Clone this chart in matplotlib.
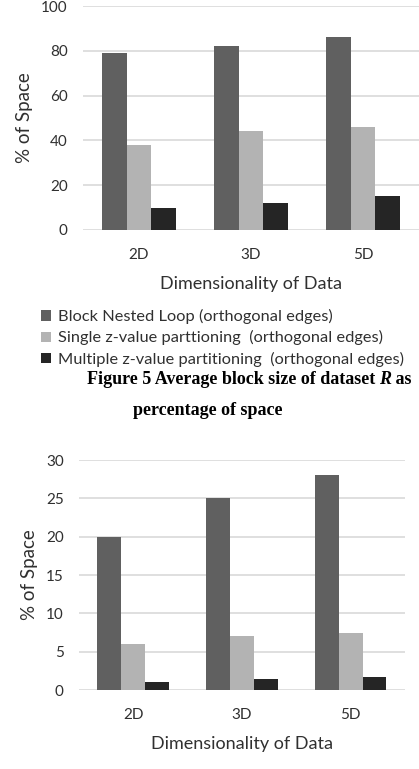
import matplotlib.pyplot as plt
import numpy as np

plt.rcParams['font.family'] = ['Lato', 'DejaVu Sans']

# datos
dims = ['2D', '3D', '5D']
series = ['Block Nested Loop (orthogonal edges)',
          'Single z-value parttioning  (orthogonal edges)',
          'Multiple z-value partitioning  (orthogonal edges)']
top_bnl = [79, 82, 86]
top_single = [38, 44, 46]
top_multi = [10, 12, 15]
bot_bnl = [20, 25, 28]
bot_single = [6, 7, 7.5]
bot_multi = [1, 1.5, 1.7]
top_ticks = [0, 20, 40, 60, 80, 100]
bot_ticks = [0, 5, 10, 15, 20, 25, 30]

colores = ['#606060', '#b3b3b3', '#252525']
txt = '#303030'
w = 0.22

fig = plt.figure(figsize=(4.19, 7.69), dpi=100)


def dibujar(ax, vals, ticks):
    x = np.arange(len(dims))
    barras = []
    for i, v in enumerate(vals):
        b = ax.bar(x + (i - 1) * w, v, w, color=colores[i], zorder=3)
        barras.append(b)
    ax.set_xlim(-0.5, 2.5)
    ax.set_ylim(ticks[0], ticks[-1])
    ax.set_yticks(ticks)
    ax.set_xticks(x)
    ax.set_xticklabels(dims)
    ax.grid(axis='y', color='#d9d9d9', linewidth=1.2, zorder=0)
    for s in ax.spines.values():
        s.set_visible(False)
    ax.tick_params(length=0, labelsize=11, colors=txt, pad=11)
    ax.tick_params(axis='x', pad=13)
    ax.set_ylabel('% of Space', fontsize=13.5, color=txt, labelpad=6)
    ax.set_xlabel('Dimensionality of Data', fontsize=13, color=txt, labelpad=10)
    return barras


ax1 = fig.add_axes([0.198, 0.701, 0.802, 0.291])
barras = dibujar(ax1, [top_bnl, top_single, top_multi], top_ticks)

ax2 = fig.add_axes([0.1885, 0.1027, 0.778, 0.2991])
dibujar(ax2, [bot_bnl, bot_single, bot_multi], bot_ticks)

fig.legend(barras, series, loc='upper left', bbox_to_anchor=(0.098, 0.598),
           frameon=False, fontsize=11.8, handlelength=0.6, handleheight=0.6,
           handletextpad=0.45, labelspacing=0.38, labelcolor=txt,
           borderpad=0, borderaxespad=0)

# pie de figura en tres pedazos (la R va en cursiva)
cap = dict(fontsize=13, fontweight='bold', family='Liberation Serif',
           va='center', ha='left')
fig.canvas.draw()
r = fig.canvas.get_renderer()
t1 = fig.text(0.207, 0.506, 'Figure 5 Average block size of dataset ', **cap)
x1 = t1.get_window_extent(r).x1 / fig.bbox.width
t2 = fig.text(x1, 0.506, 'R', style='italic', **cap)
x2 = t2.get_window_extent(r).x1 / fig.bbox.width
fig.text(x2, 0.506, ' as', **cap)
fig.text(0.497, 0.466, 'percentage of space', fontsize=13, fontweight='bold',
         family='Liberation Serif', va='center', ha='center')

fig.savefig('out.png', dpi=100)
